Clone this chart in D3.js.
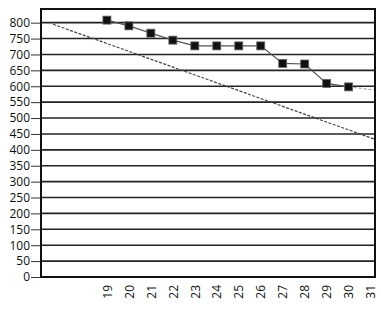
<!DOCTYPE html>
<html>
<head>
<meta charset="utf-8">
<script src="https://cdn.jsdelivr.net/npm/d3@7"></script>
<style>
  body { margin: 0; background: #fff; }
  #chart { width: 381px; height: 309px; }
  .tick-label { font-family: "Open Sans", sans-serif; font-size: 12px; fill: #111; }
</style>
</head>
<body>
<div id="chart"></div>
<script>
// data
const days = [19, 20, 21, 22, 23, 24, 25, 26, 27, 28, 29, 30];
const actual = [808, 790, 767, 745, 727, 727, 727, 727, 672, 670, 609, 598];
const dayTicks = [19, 20, 21, 22, 23, 24, 25, 26, 27, 28, 29, 30, 31];
const yTicks = [0, 50, 100, 150, 200, 250, 300, 350, 400, 450, 500, 550, 600, 650, 700, 750, 800];
// ideal line end points (day, value)
const idealDays = [16.55, 31.2];
const idealValues = [795, 433];
// faint continuation after last point
const tailDays = [30, 31.2];
const tailValues = [598, 588];

const W = 381, H = 309;
const margin = {top: 9, right: 6, bottom: 32, left: 41},
    width = W - margin.left - margin.right,
    height = H - margin.top - margin.bottom;

const x = d3.scaleLinear().domain([16, 31.2]).range([0, width]);
const y = d3.scaleLinear().domain([0, 843]).range([height, 0]);

const svg = d3.select("#chart")
  .append("svg")
    .attr("width", W)
    .attr("height", H)
  .append("g")
    .attr("transform", "translate(" + margin.left + "," + margin.top + ")");

// horizontal grid
svg.append("g")
  .selectAll("line")
  .data(yTicks.filter(d => d > 0))
  .join("line")
    .attr("x1", 0).attr("x2", width)
    .attr("y1", d => y(d)).attr("y2", d => y(d))
    .attr("stroke", "#222")
    .attr("stroke-width", 1.6);

// Y axis
const yAxis = svg.append("g")
  .call(d3.axisLeft(y).tickValues(yTicks).tickSize(10).tickPadding(1));
yAxis.select(".domain").remove();
yAxis.selectAll(".tick line").attr("stroke", "#333").attr("stroke-width", 1);
yAxis.selectAll(".tick text").attr("class", "tick-label").attr("font-size", null).attr("font-family", null);

// X axis labels (rotated)
const xAxis = svg.append("g")
  .attr("transform", "translate(0," + height + ")")
  .call(d3.axisBottom(x).tickValues(dayTicks).tickSize(0).tickFormat(d3.format("d")));
xAxis.select(".domain").remove();
xAxis.selectAll(".tick text")
  .attr("class", "tick-label")
  .attr("font-size", null).attr("font-family", null)
  .attr("transform", "rotate(-90)")
  .attr("text-anchor", "end")
  .attr("x", -8)
  .attr("y", 0)
  .attr("dy", "0.35em");

// ideal line
svg.append("path")
  .datum(idealDays.map((d, i) => [d, idealValues[i]]))
  .attr("fill", "none")
  .attr("stroke", "#444")
  .attr("stroke-width", 1.2)
  .attr("stroke-dasharray", "3,1.5")
  .attr("d", d3.line().x(d => x(d[0])).y(d => y(d[1])));

// faint tail
svg.append("path")
  .datum(tailDays.map((d, i) => [d, tailValues[i]]))
  .attr("fill", "none")
  .attr("stroke", "#aaa")
  .attr("stroke-width", 1.2)
  .attr("stroke-dasharray", "3,2")
  .attr("d", d3.line().x(d => x(d[0])).y(d => y(d[1])));

// actual line
svg.append("path")
  .datum(days.map((d, i) => [d, actual[i]]))
  .attr("fill", "none")
  .attr("stroke", "#555")
  .attr("stroke-width", 1.2)
  .attr("d", d3.line().x(d => x(d[0])).y(d => y(d[1])));

// squares
const s = 8;
svg.append("g")
  .selectAll("rect")
  .data(days.map((d, i) => [d, actual[i]]))
  .join("rect")
    .attr("x", d => x(d[0]) - s / 2)
    .attr("y", d => y(d[1]) - s / 2)
    .attr("width", s).attr("height", s)
    .attr("fill", "#111")
    .attr("stroke", "#666")
    .attr("stroke-width", 0.8);

// frame
svg.append("rect")
  .attr("x", 0).attr("y", 0)
  .attr("width", width).attr("height", height)
  .attr("fill", "none")
  .attr("stroke", "#111")
  .attr("stroke-width", 2);
</script>
</body>
</html>
